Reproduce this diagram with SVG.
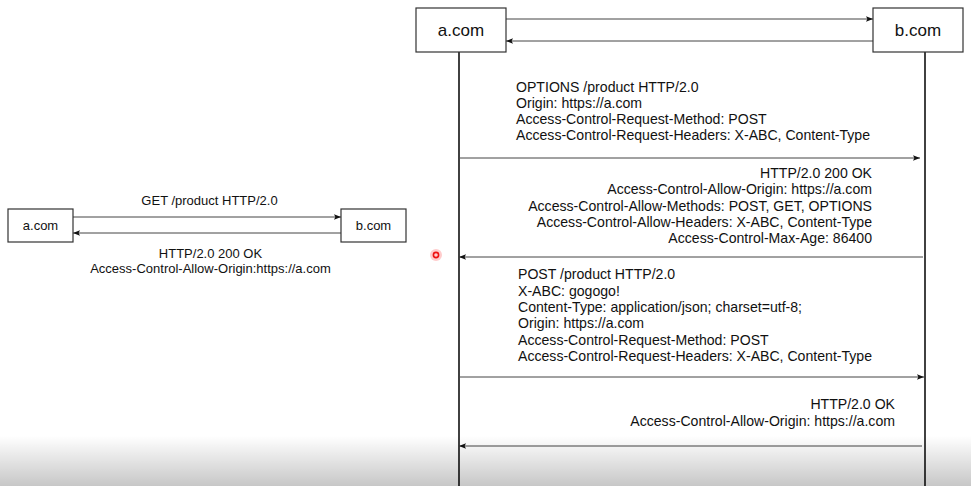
<svg xmlns="http://www.w3.org/2000/svg" width="971" height="486" viewBox="0 0 971 486">
<style>
.box{fill:#fff;stroke:#333;stroke-width:1.2}
.t{font-family:"Liberation Sans",Arial,sans-serif;fill:#111}
.big{font-size:17px}
.msg{font-size:14.1px}
.sm{font-size:13px}
.arr{stroke:#444;stroke-width:1;fill:none;marker-end:url(#ah)}
.life{stroke:#111;stroke-width:1.6}
</style>
<defs>
<marker id="ah" viewBox="0 0 10 10" refX="10" refY="5" markerWidth="7" markerHeight="7" markerUnits="userSpaceOnUse" orient="auto">
<path d="M0,1 L10,5 L0,9 L2,5 Z" fill="#111"/>
</marker>
<linearGradient id="shade" x1="0" y1="0" x2="0" y2="1">
<stop offset="0" stop-color="#000" stop-opacity="0"/>
<stop offset="1" stop-color="#000" stop-opacity="0.22"/>
</linearGradient>
</defs>
<rect width="971" height="486" fill="#fff"/>

<g id="connectors">
<line class="life" x1="459" y1="52" x2="459" y2="486"/>
<line class="life" x1="925" y1="52" x2="925" y2="486"/>
<line class="arr" x1="506" y1="19" x2="873" y2="19"/>
<line class="arr" x1="873" y1="41" x2="506" y2="41"/>
<line class="arr" x1="459" y1="158" x2="920" y2="158"/>
<line class="arr" x1="923" y1="257" x2="459" y2="257"/>
<line class="arr" x1="459" y1="377" x2="924" y2="377"/>
<line class="arr" x1="922" y1="446" x2="459" y2="446"/>
<line class="arr" x1="73" y1="217" x2="341" y2="217"/>
<line class="arr" x1="341" y1="233" x2="73" y2="233"/>
</g>

<g id="node-a-big">
<rect class="box" x="416" y="8" width="90" height="44"/>
<text class="t big" x="461" y="36" text-anchor="middle">a.com</text>
</g>
<g id="node-b-big">
<rect class="box" x="873" y="8" width="90" height="44"/>
<text class="t big" x="918" y="36" text-anchor="middle">b.com</text>
</g>
<g id="node-a-small">
<rect class="box" x="8" y="209" width="65" height="33"/>
<text class="t sm" x="40.5" y="230" text-anchor="middle">a.com</text>
</g>
<g id="node-b-small">
<rect class="box" x="341" y="209" width="65" height="33"/>
<text class="t sm" x="373.5" y="230" text-anchor="middle">b.com</text>
</g>

<g id="labels">
<text class="t sm" x="209.5" y="205" text-anchor="middle">GET /product HTTP/2.0</text>
<text class="t sm" x="210.5" y="258" text-anchor="middle">HTTP/2.0 200 OK</text>
<text class="t sm" x="210.5" y="273" text-anchor="middle">Access-Control-Allow-Origin:https://a.com</text>

<text class="t msg" x="516" y="92">OPTIONS /product HTTP/2.0</text>
<text class="t msg" x="516" y="108">Origin: https://a.com</text>
<text class="t msg" x="516" y="124">Access-Control-Request-Method: POST</text>
<text class="t msg" x="516" y="140">Access-Control-Request-Headers: X-ABC, Content-Type</text>

<text class="t msg" x="872" y="178" text-anchor="end">HTTP/2.0 200 OK</text>
<text class="t msg" x="872" y="194" text-anchor="end">Access-Control-Allow-Origin: https://a.com</text>
<text class="t msg" x="872" y="210.5" text-anchor="end">Access-Control-Allow-Methods: POST, GET, OPTIONS</text>
<text class="t msg" x="872" y="227" text-anchor="end">Access-Control-Allow-Headers: X-ABC, Content-Type</text>
<text class="t msg" x="872" y="243" text-anchor="end">Access-Control-Max-Age: 86400</text>

<text class="t msg" x="518" y="279">POST /product HTTP/2.0</text>
<text class="t msg" x="518" y="295.5">X-ABC: gogogo!</text>
<text class="t msg" x="518" y="312">Content-Type: application/json; charset=utf-8;</text>
<text class="t msg" x="518" y="328">Origin: https://a.com</text>
<text class="t msg" x="518" y="344.5">Access-Control-Request-Method: POST</text>
<text class="t msg" x="518" y="361">Access-Control-Request-Headers: X-ABC, Content-Type</text>

<text class="t msg" x="895" y="409" text-anchor="end">HTTP/2.0 OK</text>
<text class="t msg" x="895" y="426" text-anchor="end">Access-Control-Allow-Origin: https://a.com</text>
</g>

<circle cx="436" cy="255" r="6" fill="#f33" opacity="0.25"/>
<circle cx="436" cy="255" r="2.6" fill="none" stroke="#e11" stroke-width="1.6"/>
<rect x="0" y="436" width="971" height="50" fill="url(#shade)"/>
</svg>
